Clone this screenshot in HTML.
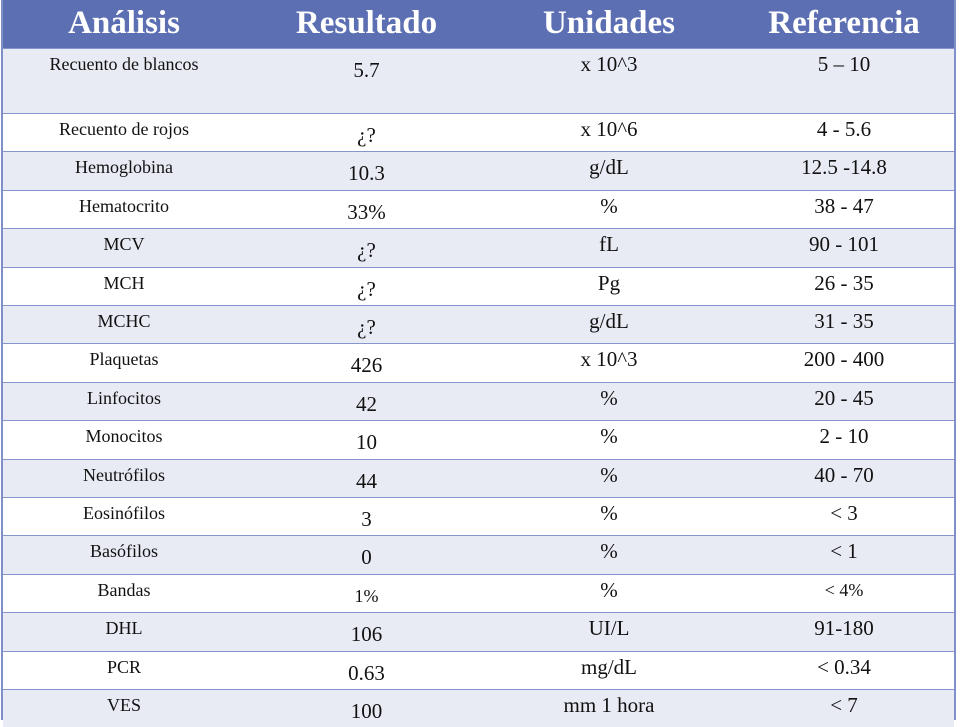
<!DOCTYPE html>
<html><head><meta charset="utf-8"><style>
body{margin:0;width:960px;height:720px;overflow:hidden;background:#fff;font-family:"Liberation Serif",serif;position:relative;}
.tbl{position:absolute;left:1px;top:0;width:955px;height:720px;border-left:2px solid #7f8fc8;border-right:2px solid #7f8fc8;box-sizing:border-box;}
.row{position:absolute;left:0;right:0;box-sizing:border-box;}
.hdr{top:0;height:48px;background:#5c6fb3;}
.hdr div{position:absolute;top:0;height:48px;line-height:46px;text-align:center;color:#fff;font-weight:bold;font-size:33px;}
.body{border-top:1.5px solid #8695cc;}
.body.alt{background:#e8eaf4;}
.c{position:absolute;text-align:center;color:#111;white-space:nowrap;line-height:22px;}
.c0{left:0;width:242px;font-size:18px;top:4px;}
.c1{left:242px;width:243px;font-size:21px;top:10px;}
.c2{left:485px;width:242px;font-size:21px;top:4px;}
.c3{left:727px;width:228px;font-size:21px;top:4px;}
</style></head><body>
<div class="tbl">
<div class="row hdr">
<div style="left:0;width:242px">Análisis</div>
<div style="left:242px;width:243px">Resultado</div>
<div style="left:485px;width:242px">Unidades</div>
<div style="left:727px;width:228px">Referencia</div>
</div>
<div id="rows"></div>
</div>
<script>
const names=["Recuento de blancos","Recuento de rojos","Hemoglobina","Hematocrito","MCV","MCH","MCHC","Plaquetas","Linfocitos","Monocitos","Neutrófilos","Eosinófilos","Basófilos","Bandas","DHL","PCR","VES"];
const results=["5.7","¿?","10.3","33%","¿?","¿?","¿?","426","42","10","44","3","0","1%","106","0.63","100"];
const units=["x 10^3","x 10^6","g/dL","%","fL","Pg","g/dL","x 10^3","%","%","%","%","%","%","UI/L","mg/dL","mm 1 hora"];
const refs=["5 – 10","4 - 5.6","12.5 -14.8","38 - 47","90 - 101","26 - 35","31 - 35","200 - 400","20 - 45","2 - 10","40 - 70","< 3","< 1","< 4%","91-180","< 0.34","< 7"];
const host=document.getElementById('rows');
names.forEach((n,i)=>{
  const r=document.createElement('div');
  
  
  r.className='row body'+(i%2===0?' alt':'');
  const top=i===0?48:113+(i-1)*38.4;
  const h=i===0?65:38.4;
  r.style.top=top+'px';r.style.height=h+'px';
  [n,results[i],units[i],refs[i]].forEach((t,j)=>{
    const c=document.createElement('div');
    
    
    c.className='c c'+j;
    c.textContent=t;
    if(i===13&&(j===1||j===3))c.style.fontSize='18px';
    r.appendChild(c);
  });
  host.appendChild(r);
});
</script>
</body></html>
